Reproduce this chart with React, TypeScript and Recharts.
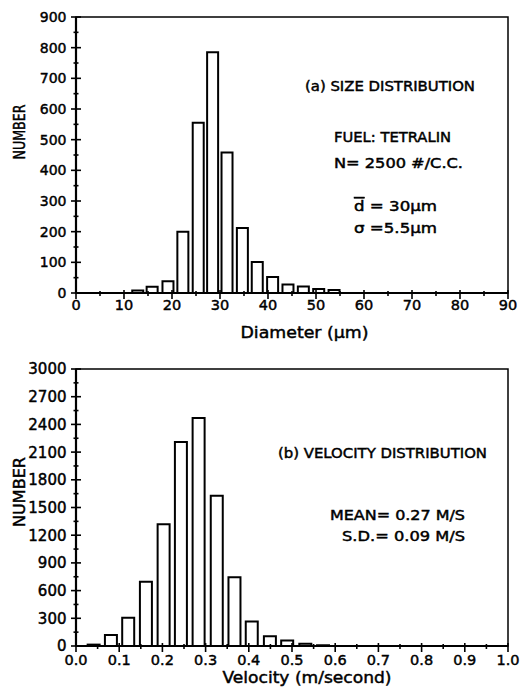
import React from "react";
import { BarChart, Bar, XAxis, YAxis, ReferenceArea } from "recharts";

// ---- Panel (a): size distribution ----
const sizeDiameters = [12.8, 15.8, 19.1, 22.2, 25.4, 28.4, 31.4, 34.6, 37.7, 40.9, 44.1, 47.3, 50.5, 53.7];
const sizeCounts = [8, 20, 38, 200, 555, 785, 458, 212, 101, 52, 28, 21, 13, 10];
const sizeXTicks = [0, 5, 10, 15, 20, 25, 30, 35, 40, 45, 50, 55, 60, 65, 70, 75, 80, 85, 90];
const sizeYTicks = [0, 50, 100, 150, 200, 250, 300, 350, 400, 450, 500, 550, 600, 650, 700, 750, 800, 850, 900];

// ---- Panel (b): velocity distribution ----
const velocityBins = [0.04, 0.08, 0.12, 0.161, 0.202, 0.242, 0.283, 0.325, 0.366, 0.406, 0.448, 0.488, 0.53, 0.571];
const velocityCounts = [15, 120, 305, 695, 1318, 2210, 2470, 1628, 745, 265, 105, 60, 25, 8];
const velXTicks = [0, 0.05, 0.1, 0.15, 0.2, 0.25, 0.3, 0.35, 0.4, 0.45, 0.5, 0.55, 0.6, 0.65, 0.7, 0.75, 0.8, 0.85, 0.9, 0.95, 1.0];
const velXLabels = ["0.0", "0.1", "0.2", "0.3", "0.4", "0.5", "0.6", "0.7", "0.8", "0.9", "1.0"];
const velYTicks = [0, 150, 300, 450, 600, 750, 900, 1050, 1200, 1350, 1500, 1650, 1800, 1950, 2100, 2250, 2400, 2550, 2700, 2850, 3000];

const sizeData = sizeDiameters.map((d, i) => ({ d, n: sizeCounts[i] }));
const velData = velocityBins.map((v, i) => ({ v, n: velocityCounts[i] }));

const FONT = "'DejaVu Sans', sans-serif";
const HEAVY = { stroke: "#000", strokeWidth: 0.45 };

const makeYTick = (fontSize: number) => (props: any) => {
  const { x, y, index, payload } = props;
  const major = index % 2 === 0;
  const h = major ? 5 : 2.5;
  return (
    <g>
      <line x1={x - h} x2={x + h} y1={y} y2={y} stroke="#000" strokeWidth={1.6} />
      {major && (
        <text x={x - 9.5} y={y} dy="0.36em" textAnchor="end" fontFamily={FONT} fontSize={fontSize} fill="#000" {...HEAVY}>
          {String(payload.value)}
        </text>
      )}
    </g>
  );
};

const makeXTick = (fontSize: number, labels: string[] | null, baseOff: number) => (props: any) => {
  const { x, y, index, payload } = props;
  const major = index % 2 === 0;
  return (
    <g>
      <line x1={x} x2={x} y1={y - (major ? 3 : 2)} y2={y + (major ? 6 : 3)} stroke="#000" strokeWidth={1.6} />
      {major && (
        <text x={x} y={y + baseOff} textAnchor="middle" fontFamily={FONT} fontSize={fontSize} fill="#000" {...HEAVY}>
          {labels ? labels[index / 2] : String(payload.value)}
        </text>
      )}
    </g>
  );
};

const T = (p: { x: number; y: number; len: number; size?: number; children: React.ReactNode; anchor?: string; rotate?: boolean }) => (
  <text
    x={p.x}
    y={p.y}
    fontFamily={FONT}
    fontSize={p.size ?? 13.5}
    fill="#000"
    {...HEAVY}
    textLength={p.len}
    lengthAdjust="spacingAndGlyphs"
    textAnchor={p.anchor ?? "start"}
    transform={p.rotate ? `rotate(-90 ${p.x} ${p.y})` : undefined}
  >
    {p.children}
  </text>
);

export default function App() {
  return (
    <div style={{ position: "relative", width: 528, height: 690, marginLeft: -8, marginTop: -8, background: "#fff" }}>
      <div style={{ position: "absolute", left: 0, top: 0 }}>
        <BarChart width={528} height={345} data={sizeData} margin={{ top: 17, right: 20, bottom: 0, left: 0 }}>
          <ReferenceArea x1={0} x2={90} y1={0} y2={900} fill="none" stroke="#000" strokeWidth={1.5} ifOverflow="visible" />
          <XAxis
            dataKey="d"
            type="number"
            domain={[0, 90]}
            ticks={sizeXTicks}
            interval={0}
            height={52}
            tickSize={0}
            tickMargin={0}
            tickLine={false}
            axisLine={{ stroke: "#000", strokeWidth: 2.2 }}
            tick={makeXTick(14.5, null, 17)}
            allowDataOverflow
          />
          <YAxis
            type="number"
            domain={[0, 900]}
            ticks={sizeYTicks}
            interval={0}
            width={76}
            tickSize={0}
            tickMargin={0}
            tickLine={false}
            axisLine={{ stroke: "#000", strokeWidth: 2.2 }}
            tick={makeYTick(14)}
            allowDataOverflow
          />
          <Bar dataKey="n" fill="#fff" stroke="#000" strokeWidth={2} barSize={11} isAnimationActive={false} />
        </BarChart>
      </div>
      <div style={{ position: "absolute", left: 0, top: 345 }}>
        <BarChart width={528} height={345} data={velData} margin={{ top: 24, right: 20, bottom: 0, left: 0 }}>
          <ReferenceArea x1={0} x2={1} y1={0} y2={3000} fill="none" stroke="#000" strokeWidth={1.5} ifOverflow="visible" />
          <XAxis
            dataKey="v"
            type="number"
            domain={[0, 1]}
            ticks={velXTicks}
            interval={0}
            height={44}
            tickSize={0}
            tickMargin={0}
            tickLine={false}
            axisLine={{ stroke: "#000", strokeWidth: 2.2 }}
            tick={makeXTick(14.5, velXLabels, 19)}
            allowDataOverflow
          />
          <YAxis
            type="number"
            domain={[0, 3000]}
            ticks={velYTicks}
            interval={0}
            width={76}
            tickSize={0}
            tickMargin={0}
            tickLine={false}
            axisLine={{ stroke: "#000", strokeWidth: 2.2 }}
            tick={makeYTick(15)}
            allowDataOverflow
          />
          <Bar dataKey="n" fill="#fff" stroke="#000" strokeWidth={2} barSize={12} isAnimationActive={false} />
        </BarChart>
      </div>
      <svg width={528} height={690} style={{ position: "absolute", left: 0, top: 0, pointerEvents: "none" }}>
        <T x={305} y={91} len={170}>(a) SIZE DISTRIBUTION</T>
        <T x={334} y={142} len={117}>FUEL: TETRALIN</T>
        <T x={334} y={168} len={129}>N= 2500 #/C.C.</T>
        <T x={354} y={211} len={83}>
          <tspan textDecoration="overline">d</tspan> = 30µm
        </T>
        <T x={354} y={233} len={83}>σ =5.5µm</T>
        <T x={25} y={132} len={55} size={16} anchor="middle" rotate>NUMBER</T>
        <T x={304.5} y={338} len={128} size={16} anchor="middle">Diameter (µm)</T>

        <T x={278} y={458} len={209}>(b) VELOCITY DISTRIBUTION</T>
        <T x={330} y={520} len={135}>MEAN= 0.27 M/S</T>
        <T x={342} y={541} len={123}>S.D.= 0.09 M/S</T>
        <T x={25} y={492} len={70} size={16} anchor="middle" rotate>NUMBER</T>
        <T x={307} y={683} len={169} size={16} anchor="middle">Velocity (m/second)</T>
      </svg>
    </div>
  );
}
